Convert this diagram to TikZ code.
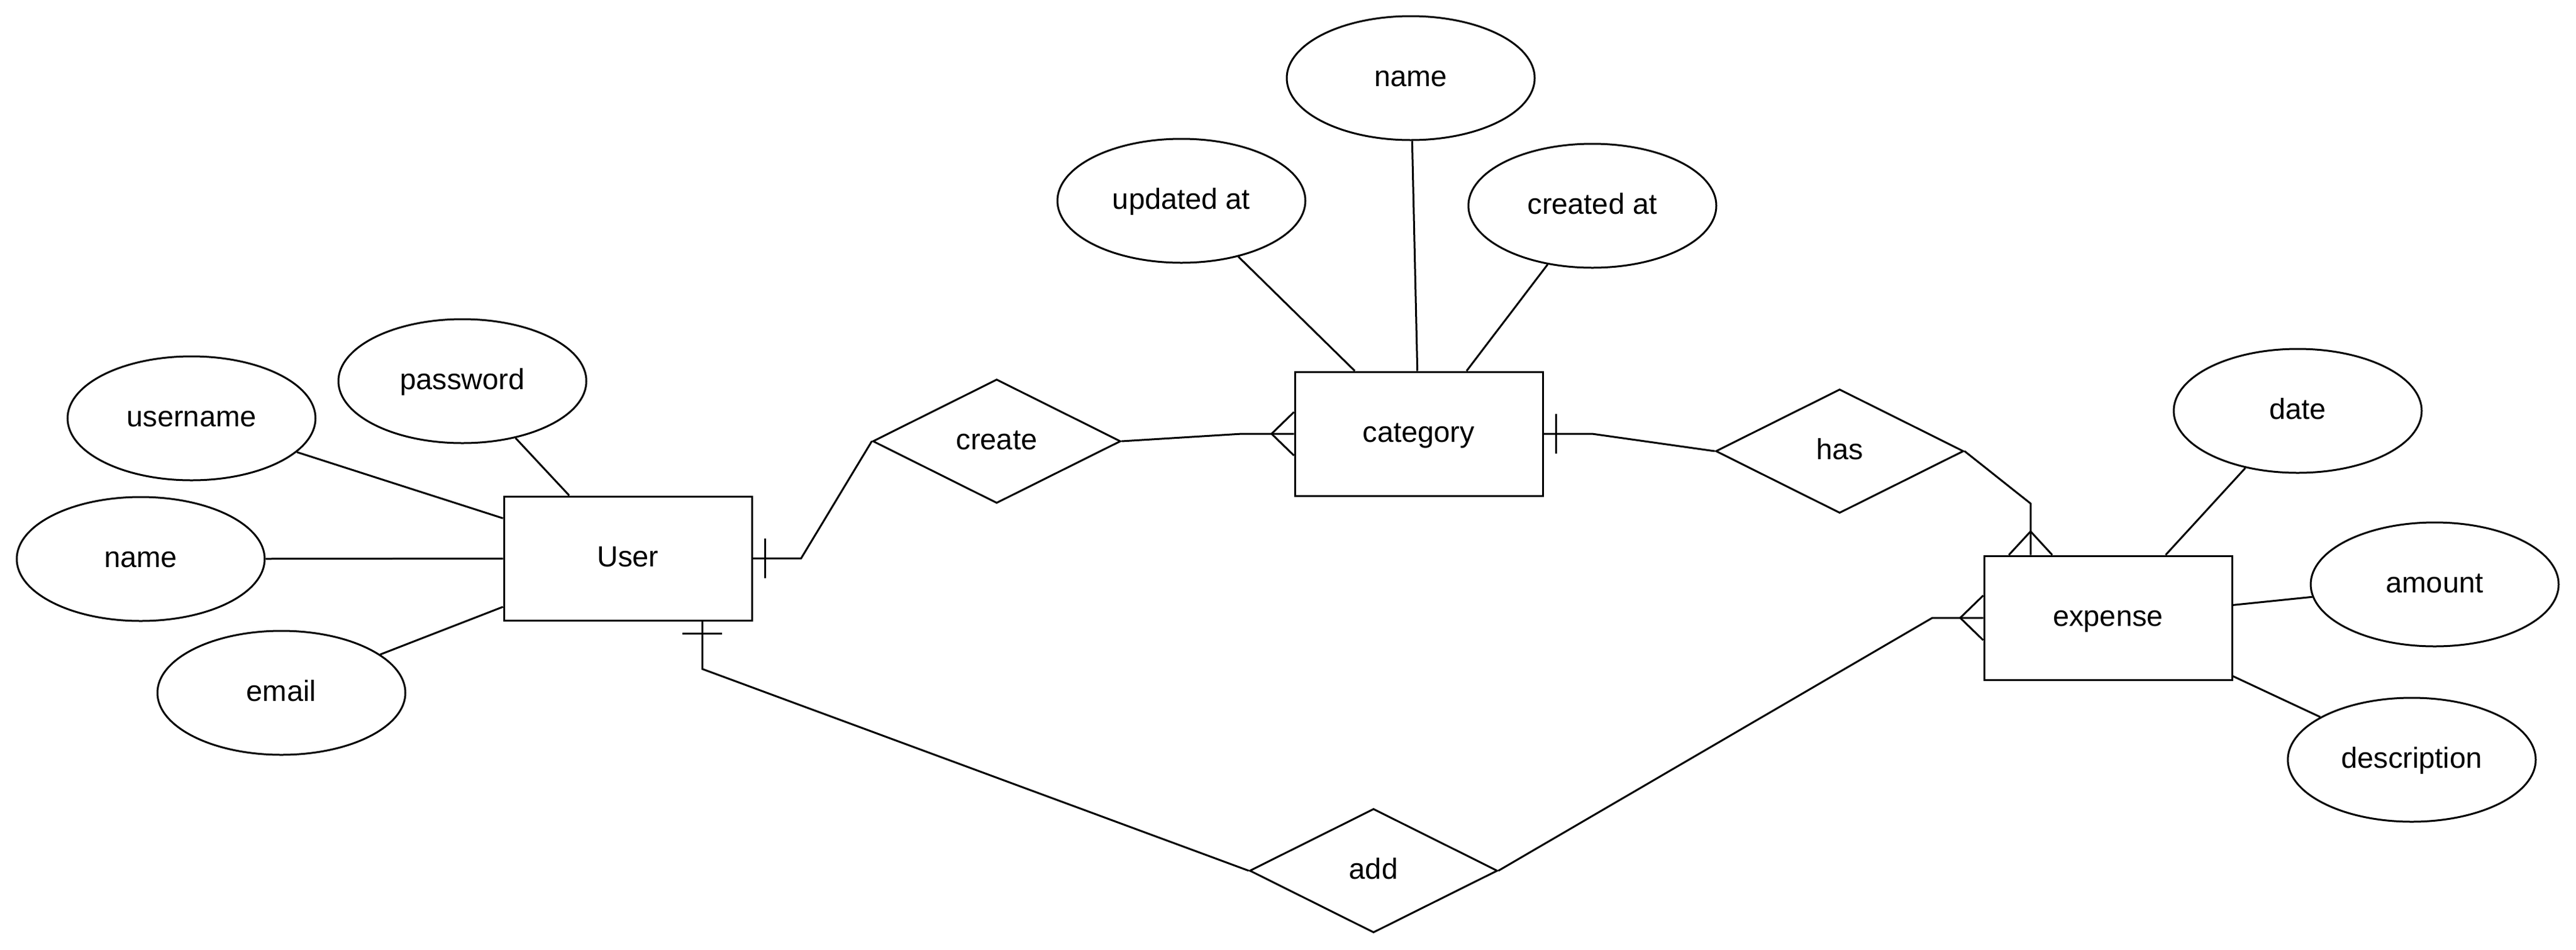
\documentclass[tikz,border=0pt]{standalone}
\usepackage{fontspec}
\setmainfont{Liberation Sans}
\usetikzlibrary{shapes.geometric,calc}
\begin{document}
\begin{tikzpicture}[
  ln/.style={line width=0.03cm, line join=miter},
  lbl/.style={inner sep=0pt, text height=0.26cm, text depth=0pt},
  attr/.style={ellipse, draw, ln, lbl, minimum width=4cm, minimum height=2cm},
  ent/.style={rectangle, draw, ln, lbl, minimum width=4cm, minimum height=2cm},
  rel/.style={diamond, draw, ln, lbl, minimum width=4cm, minimum height=2cm},
  font=\fontsize{13.37}{16}\selectfont
]
\useasboundingbox (0,0) rectangle (41.56,-15.32);

% entities
\node[ent] (User) at (10.13,-9.01) {User};
\node[ent] (category) at (22.89,-7.00) {category};
\node[ent] (expense) at (34.01,-9.97) {expense};

% relationships
\node[rel] (create) at (16.08,-7.12) {create};
\node[rel] (has) at (29.68,-7.28) {has};
\node[rel] (add) at (22.16,-14.05) {add};

% attributes
\node[attr] (username) at (3.09,-6.75) {username};
\node[attr] (password) at (7.46,-6.15) {password};
\node[attr] (uname) at (2.27,-9.02) {name};
\node[attr] (email) at (4.54,-11.18) {email};
\node[attr] (updated) at (19.06,-3.24) {updated at};
\node[attr] (cname) at (22.76,-1.26) {name};
\node[attr] (created) at (25.69,-3.32) {created at};
\node[attr] (date) at (37.07,-6.63) {date};
\node[attr] (amount) at (39.28,-9.43) {amount};
\node[attr] (description) at (38.91,-12.26) {description};

% attribute links
\draw[ln] (username) -- (User);
\draw[ln] (password) -- (User);
\draw[ln] (uname) -- (User);
\draw[ln] (email) -- (User);
\draw[ln] (updated) -- (category);
\draw[ln] (cname) -- (category);
\draw[ln] (created) -- (category);
\draw[ln] (date) -- (expense);
\draw[ln] (amount) -- (expense);
\draw[ln] (description) -- (expense);

% User -- create -- category
\draw[ln] (User.east) -- ++(0.78,0) -- (create.west);
\draw[ln] ([xshift=0.2cm,yshift=0.32cm]User.east) -- ([xshift=0.2cm,yshift=-0.32cm]User.east);
\draw[ln] (create.east) -- ([xshift=-0.84cm]category.west) -- (category.west);
\draw[ln] ([yshift=0.35cm]category.west) -- ([xshift=-0.36cm]category.west) -- ([yshift=-0.35cm]category.west);

% category -- has -- expense
\draw[ln] (category.east) -- ++(0.78,0) -- (has.west);
\draw[ln] ([xshift=0.2cm,yshift=0.32cm]category.east) -- ([xshift=0.2cm,yshift=-0.32cm]category.east);
\draw[ln] (has.east) -- ([xshift=-1.25cm,yshift=0.83cm]expense.north) -- ([xshift=-1.25cm]expense.north);
\draw[ln] ([xshift=-1.60cm]expense.north) -- ([xshift=-1.25cm,yshift=0.38cm]expense.north) -- ([xshift=-0.90cm]expense.north);

% User -- add -- expense
\draw[ln] ([xshift=1.20cm]User.south) -- ([xshift=1.20cm,yshift=-0.77cm]User.south) -- (add.west);
\draw[ln] ([xshift=0.88cm,yshift=-0.2cm]User.south) -- ([xshift=1.52cm,yshift=-0.2cm]User.south);
\draw[ln] (add.east) -- ([xshift=-0.82cm]expense.west) -- (expense.west);
\draw[ln] ([yshift=0.36cm]expense.west) -- ([xshift=-0.37cm]expense.west) -- ([yshift=-0.36cm]expense.west);
\end{tikzpicture}
\end{document}
